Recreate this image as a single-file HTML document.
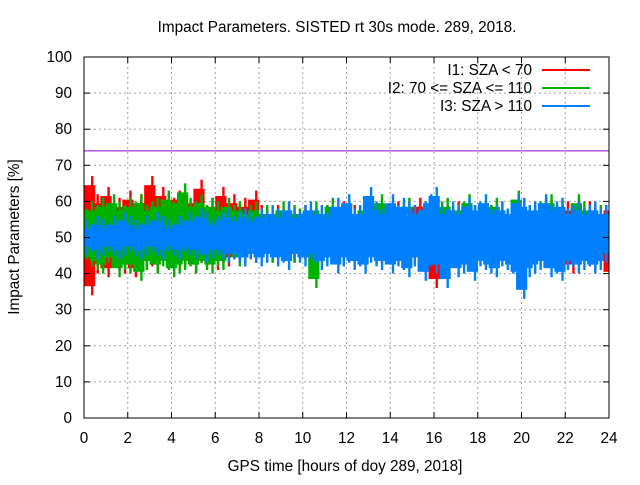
<!DOCTYPE html>
<html><head><meta charset="utf-8"><style>
body{margin:0;background:#fff}
svg text{font-family:"Liberation Sans",sans-serif;font-size:15.3px;fill:#000}
</style></head><body>
<svg id="chart" width="640" height="480" xmlns="http://www.w3.org/2000/svg">
<rect width="640" height="480" fill="#fff"/>
<text x="337" y="32" text-anchor="middle">Impact Parameters. SISTED rt 30s mode. 289, 2018.</text>
<text transform="translate(19,237) rotate(-90)" text-anchor="middle">Impact Parameters [%]</text>
<text x="345" y="471" text-anchor="middle">GPS time [hours of doy 289, 2018]</text>
<g id="grid"></g><g id="series"></g><g id="axes"></g>
<g>
<text x="532" y="75" text-anchor="end">I1: SZA &lt; 70</text><line x1="542" y1="70" x2="590" y2="70" stroke="#ff0000" stroke-width="2"/>
<text x="532" y="93" text-anchor="end">I2: 70 &lt;= SZA &lt;= 110</text><line x1="542" y1="88" x2="590" y2="88" stroke="#00b000" stroke-width="2"/>
<text x="532" y="111" text-anchor="end">I3: SZA &gt; 110</text><line x1="542" y1="106" x2="590" y2="106" stroke="#0080ff" stroke-width="2"/>
</g>
</svg>
<script>
const xTicks=[0,2,4,6,8,10,12,14,16,18,20,22,24];
const yTicks=[0,10,20,30,40,50,60,70,80,90,100];
const refLine=74;
const redHi=[60,67,62,59,64,58,61,60,63,59,62,58,67,60,64,59,61,63,60,58,62,66,59,61,60,64,58,62,59,61,60,63,59,58,57,59,58,60,57,58,59,57,58,56,59,58,57,60,58,59,57,58,56,59,58,57,59,60,58,57,59,61,58,57,58,57,59,58,60,57,58,59,58,57,59,60,58,57,59,58,60,58,59,57,58,60,59,58,60,59,61,58,60,59,58,59];
const redLo=[38,34,40,42,39,43,41,40,42,39,43,41,42,40,44,42,43,41,42,44,40,43,42,44,41,43,42,44,43,42,44,43,44,45,43,44,45,44,43,45,44,45,44,43,45,44,44,45,44,43,45,44,45,43,44,45,44,45,44,43,44,45,44,44,36,44,43,45,44,42,44,43,45,44,43,44,45,44,43,44,42,44,45,43,44,45,42,43,44,40,42,43,44,41,43,44];
const greenHi=[58,60,59,61,58,62,60,59,61,60,62,59,60,61,58,63,60,62,65,61,60,62,59,61,60,58,61,59,60,58,59,60,58,59,57,58,60,58,59,58,57,58,60,58,59,61,58,59,57,58,59,60,58,59,62,58,59,58,60,61,59,58,60,59,58,60,61,59,58,60,62,59,58,60,59,61,60,58,59,63,60,59,58,60,61,62,59,60,58,59,62,60,59,58,59,58];
const greenLo=[44,42,41,40,43,42,39,41,40,42,38,41,43,40,42,41,39,40,41,42,40,43,41,40,42,41,43,44,42,43,44,43,44,45,43,44,45,44,43,44,45,44,36,44,43,45,44,43,44,45,43,44,45,44,43,44,45,44,43,44,45,44,42,44,45,44,43,44,45,44,43,44,45,44,42,44,45,44,43,44,44,43,45,44,44,43,45,44,45,44,43,44,45,44,43,44];
const blueHi=[55,54,56,55,54,56,55,57,56,55,54,56,55,57,56,55,54,56,55,57,56,58,57,55,56,57,58,56,57,58,57,56,58,57,59,58,57,60,58,57,59,60,58,59,57,58,61,59,62,58,59,58,64,60,58,59,62,59,61,60,59,58,60,62,64,59,58,60,59,58,61,59,60,62,58,59,60,58,59,62,61,59,60,58,62,59,60,61,58,59,60,58,59,60,58,59];
const blueLo=[45,46,44,45,46,45,44,45,46,45,44,45,46,45,44,46,45,44,46,45,44,45,43,44,45,44,43,44,43,42,44,43,42,43,44,42,43,41,44,43,42,44,43,41,42,43,40,42,43,41,42,40,43,42,41,43,40,42,41,39,42,43,38,42,40,41,36,42,39,40,41,38,42,41,40,39,42,41,40,38,33,39,40,41,42,39,40,38,41,42,40,41,42,40,41,43];
const X0=84,X1=609,Y0=418,Y1=57,NS='http://www.w3.org/2000/svg';
const xs=v=>X0+(v-0)/24*(X1-X0), ys=v=>Y0-(v/100)*(Y0-Y1);
function mk(t,a,p){const e=document.createElementNS(NS,t);for(const k in a)e.setAttribute(k,a[k]);p.appendChild(e);return e;}
const grid=document.getElementById('grid'),axes=document.getElementById('axes'),ser=document.getElementById('series');
xTicks.forEach(t=>{
 if(t>0&&t<24){const g=mk('line',{x1:xs(t),x2:xs(t),y1:Y1,y2:Y0,stroke:'#a0a0a0','stroke-dasharray':'2,3'},grid);
 
 }
 mk('line',{x1:xs(t),x2:xs(t),y1:Y0,y2:Y0-6,stroke:'#000'},axes);
 mk('line',{x1:xs(t),x2:xs(t),y1:Y1,y2:Y1+6,stroke:'#000'},axes);
 const l=mk('text',{x:xs(t),y:443,'text-anchor':'middle'},axes);l.textContent=t;
 
 
});
yTicks.forEach(t=>{
 if(t>0&&t<100){const g=mk('line',{x1:X0,x2:X1,y1:ys(t),y2:ys(t),stroke:'#a0a0a0','stroke-dasharray':'2,3'},grid);
 
 }
 mk('line',{x1:X0,x2:X0+6,y1:ys(t),y2:ys(t),stroke:'#000'},axes);
 mk('line',{x1:X1,x2:X1-6,y1:ys(t),y2:ys(t),stroke:'#000'},axes);
 const l=mk('text',{x:72,y:ys(t)+5,'text-anchor':'end'},axes);l.textContent=t;
 
 
});
const fr=mk('rect',{x:X0,y:Y1,width:X1-X0,height:Y0-Y1,fill:'none',stroke:'#000'},axes);


function series(hi,lo,col,name){
 const g=mk('g',{},ser);
 
 
 const n=hi.length,w=24/n;
 for(let i=0;i<n;i++){
  const j=(i+1)%n;
  const top=Math.max(hi[i],hi[j])-2.5, bot=Math.min(lo[i],lo[j])+2.5;
  const r=mk('rect',{x:xs(i*w),y:ys(top),width:xs(w)-xs(0)+0.3,height:Math.max(0,ys(bot)-ys(top)),fill:col},g);
  
  
 }
 for(let i=0;i<n;i++){
  const cx=xs((i+0.5)*w);
  const s=mk('rect',{x:cx-1.2,y:ys(hi[i]),width:2.4,height:ys(lo[i])-ys(hi[i]),fill:col},g);
  
  
 }
}
series(redHi,redLo,'#ff0000','series-i1');
series(greenHi,greenLo,'#00b000','series-i2');
series(blueHi,blueLo,'#0080ff','series-i3');
const rl=mk('line',{x1:X0,x2:X1,y1:ys(refLine),y2:ys(refLine),stroke:'#9400d3'},ser);


</script>
</body></html>
